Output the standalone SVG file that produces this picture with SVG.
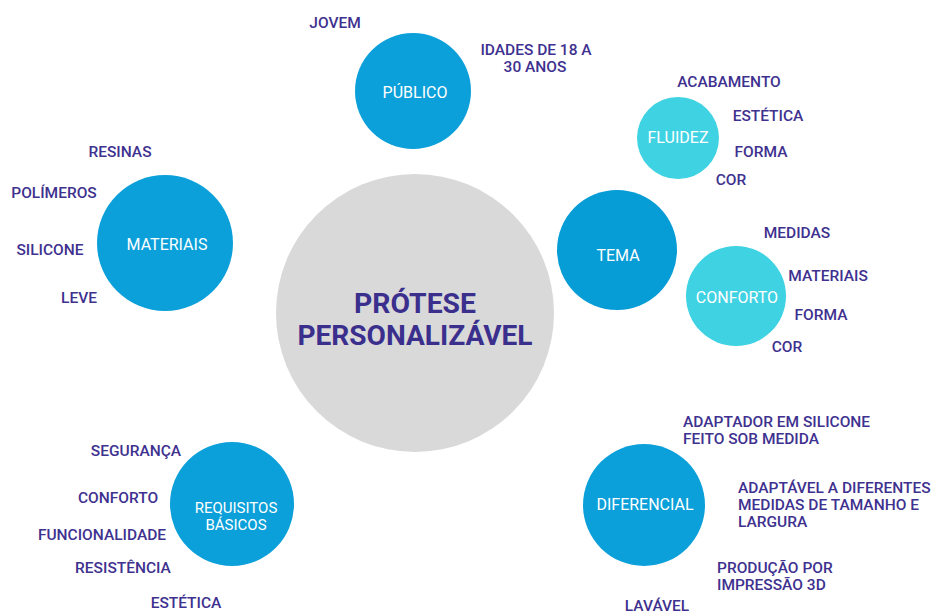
<svg xmlns="http://www.w3.org/2000/svg" width="933" height="614" viewBox="0 0 933 614">
  <style>
    .hub { fill: #d9d9d9; }
    .main { fill: #0ba0d9; }
    .dark { fill: #069cd6; }
    .light { fill: #3fd2e3; }
    .in { font-family: Roboto, "Liberation Sans", sans-serif; font-size: 16px; fill: #ffffff; text-anchor: middle; }
    .lbl { font-family: Roboto, "Liberation Sans", sans-serif; font-size: 15.5px; font-weight: 500; fill: #3e318f; text-anchor: middle; }
    .st { text-anchor: start; }
    .title { font-family: Roboto, "Liberation Sans", sans-serif; font-size: 27px; font-weight: 700; fill: #3b2f8e; text-anchor: middle; }
  </style>
  <rect width="933" height="614" fill="#ffffff"/>

  <g id="connectors"></g>

  <g id="hub">
    <circle class="hub" cx="415" cy="313" r="139"/>
    <text class="title"><tspan x="415" y="313" textLength="122" lengthAdjust="spacingAndGlyphs">PRÓTESE</tspan><tspan x="415" y="345" textLength="235" lengthAdjust="spacingAndGlyphs">PERSONALIZÁVEL</tspan></text>
  </g>

  <g id="publico">
    <circle class="main" cx="413" cy="91" r="58"/>
    <text class="in" x="415" y="98">PÚBLICO</text>
    <text class="lbl" x="335" y="28">JOVEM</text>
    <text class="lbl"><tspan x="536" y="55">IDADES DE 18 A</tspan><tspan x="535" y="72">30 ANOS</tspan></text>
  </g>

  <g id="materiais">
    <circle class="main" cx="165" cy="243" r="68"/>
    <text class="in" x="167" y="250">MATERIAIS</text>
    <text class="lbl" x="120" y="157">RESINAS</text>
    <text class="lbl" x="54" y="198">POLÍMEROS</text>
    <text class="lbl" x="50" y="255">SILICONE</text>
    <text class="lbl" x="79" y="303">LEVE</text>
  </g>

  <g id="tema">
    <circle class="dark" cx="617" cy="250" r="60"/>
    <text class="in" x="618" y="261">TEMA</text>
  </g>

  <g id="fluidez">
    <circle class="light" cx="678" cy="138" r="41"/>
    <text class="in" x="678" y="143">FLUIDEZ</text>
    <text class="lbl" x="729" y="87">ACABAMENTO</text>
    <text class="lbl" x="768" y="121">ESTÉTICA</text>
    <text class="lbl" x="761" y="157">FORMA</text>
    <text class="lbl" x="731" y="185">COR</text>
  </g>

  <g id="conforto">
    <circle class="light" cx="736" cy="296" r="50"/>
    <text class="in" x="737" y="303">CONFORTO</text>
    <text class="lbl" x="797" y="238">MEDIDAS</text>
    <text class="lbl" x="828" y="281">MATERIAIS</text>
    <text class="lbl" x="821" y="320">FORMA</text>
    <text class="lbl" x="787" y="352">COR</text>
  </g>

  <g id="requisitos">
    <circle class="main" cx="232" cy="504" r="62"/>
    <text class="in" style="font-size:15px"><tspan x="236" y="513">REQUISITOS</tspan><tspan x="236" y="530">BÁSICOS</tspan></text>
    <text class="lbl" x="136" y="456">SEGURANÇA</text>
    <text class="lbl" x="118" y="503">CONFORTO</text>
    <text class="lbl" x="102" y="540">FUNCIONALIDADE</text>
    <text class="lbl" x="123" y="573">RESISTÊNCIA</text>
    <text class="lbl" x="186" y="608">ESTÉTICA</text>
  </g>

  <g id="diferencial">
    <circle class="main" cx="644" cy="505" r="61"/>
    <text class="in" x="645" y="510">DIFERENCIAL</text>
    <text class="lbl st"><tspan x="683" y="427">ADAPTADOR EM SILICONE</tspan><tspan x="683" y="444">FEITO SOB MEDIDA</tspan></text>
    <text class="lbl st"><tspan x="738" y="493">ADAPTÁVEL A DIFERENTES</tspan><tspan x="738" y="510">MEDIDAS DE TAMANHO E</tspan><tspan x="738" y="527">LARGURA</tspan></text>
    <text class="lbl st"><tspan x="717" y="573">PRODUÇÃO POR</tspan><tspan x="717" y="590">IMPRESSÃO 3D</tspan></text>
    <text class="lbl" x="657" y="611">LAVÁVEL</text>
  </g>
</svg>
